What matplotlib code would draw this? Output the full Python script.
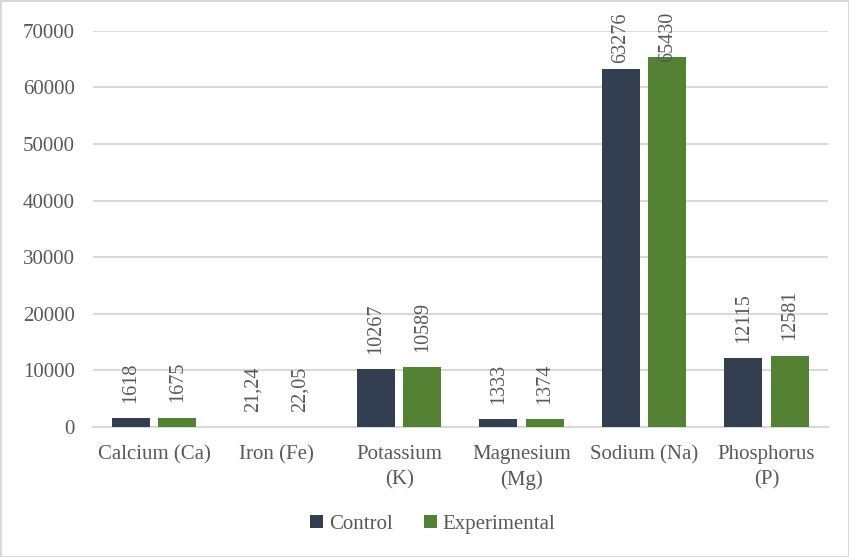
import numpy as np
import matplotlib.pyplot as plt

plt.rcParams['font.family'] = ['Liberation Serif', 'DejaVu Serif']

categories = ['Calcium (Ca)', 'Iron (Fe)', 'Potassium\n(K)', 'Magnesium\n(Mg)',
              'Sodium (Na)', 'Phosphorus\n(P)']
control = [1618, 21.24, 10267, 1333, 63276, 12115]
experimental = [1675, 22.05, 10589, 1374, 65430, 12581]
control_labels = ['1618', '21,24', '10267', '1333', '63276', '12115']
experimental_labels = ['1675', '22,05', '10589', '1374', '65430', '12581']

text_col = '#595959'
grid_col = '#d9d9d9'

fig = plt.figure(figsize=(8.49, 5.57), dpi=100, edgecolor=grid_col, linewidth=2)
ax = fig.add_axes([0.1095, 0.2334, 0.8655, 0.7116])

x = np.arange(len(categories))
w = 0.31
off = 0.19
b1 = ax.bar(x - off, control, w, color='#333f50', label='Control', zorder=3)
b2 = ax.bar(x + off, experimental, w, color='#548235', label='Experimental', zorder=3)

texts = []
for bars, labels in ((b1, control_labels), (b2, experimental_labels)):
    for rect, lab in zip(bars, labels):
        t = ax.annotate(lab, (rect.get_x() + rect.get_width() / 2, rect.get_height()),
                        xytext=(0, 11), textcoords='offset points', rotation=90,
                        ha='center', va='bottom', fontsize=14.5, color=text_col,
                        annotation_clip=False, zorder=4)
        texts.append(t)

ax.set_xlim(-0.5, len(categories) - 0.5)
ax.set_ylim(0, 70000)
ax.set_yticks(np.arange(0, 70001, 10000))
ax.set_xticks(x)
ax.set_xticklabels(categories, fontsize=15, color=text_col, linespacing=1.42)
ax.tick_params(axis='y', labelsize=15, labelcolor=text_col, length=0, pad=13)
ax.tick_params(axis='x', length=0, pad=13)
ax.grid(axis='y', color=grid_col, linewidth=1.5, zorder=0)
for s in ['top', 'right', 'left']:
    ax.spines[s].set_visible(False)
ax.spines['bottom'].set_color(grid_col)
ax.spines['bottom'].set_linewidth(1.5)

fig.legend(loc='center', bbox_to_anchor=(0.51, 0.058), ncol=2, frameon=False,
           fontsize=15, labelcolor=text_col, handlelength=0.6, handleheight=0.6,
           handletextpad=0.3, columnspacing=1.5)

# keep labels inside the chart area (like the original), shift down if too high
fig.canvas.draw()
r = fig.canvas.get_renderer()
top_px = fig.bbox.height - 12
for t in texts:
    bb = t.get_window_extent(r)
    if bb.y1 > top_px:
        dy = (top_px - bb.y1) * 72 / fig.dpi
        t.set_position((0, 11 + dy))

plt.savefig('out.png')
